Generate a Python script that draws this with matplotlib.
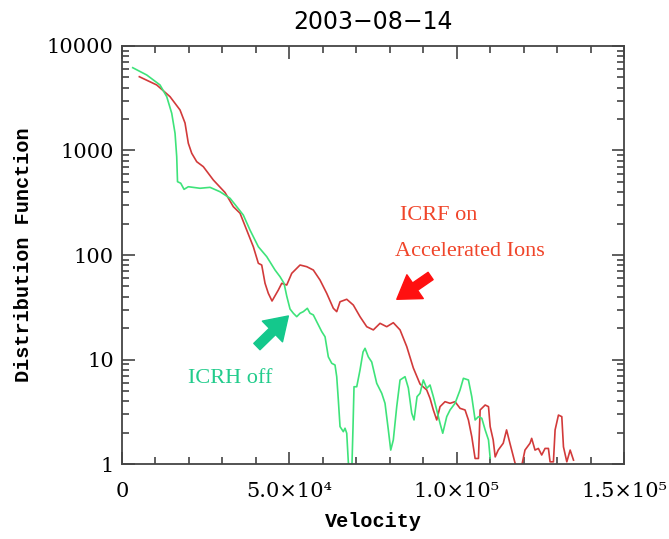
import numpy as np
import matplotlib
matplotlib.use("Agg")
import matplotlib.pyplot as plt
from matplotlib.ticker import FixedLocator, NullFormatter

# velocity in units of 1e3, distribution function values
ICRF_ON_V = [5.17, 10.37, 14.34, 17.33, 18.82, 19.81, 20.83, 22.32, 24.29, 27.28,
             30.78, 33.26, 35.26, 37.26, 39.23, 40.73, 41.74, 42.73, 43.71, 44.82,
             46.70, 47.72, 49.21, 50.71, 51.69, 53.19, 55.19, 57.16, 59.16, 61.16,
             63.14, 64.15, 65.14, 67.14, 69.11, 71.11, 73.12, 75.09, 77.09, 79.09,
             81.06, 83.07, 85.07, 87.04, 89.04, 91.04, 92.03, 93.02, 94.03, 95.02,
             96.51, 98.01, 99.50, 101.0, 102.5, 103.5, 104.5, 105.5, 106.5, 107.0,
             108.5, 109.5, 110.0, 110.9, 111.5, 112.4, 113.9, 114.9, 115.9, 117.4,
             118.9, 120.4, 121.9, 122.4, 123.4, 124.4, 125.4, 126.4, 127.4, 127.9,
             128.9, 129.4, 130.4, 131.4, 131.9, 132.9, 133.9, 134.9]
ICRF_ON_F = [5080, 4236, 3273, 2442, 1833, 1172, 940, 781, 700, 522,
             396, 290, 251, 173, 120, 83.3, 80.2, 53.6, 43.0, 36.3,
             46.2, 53.6, 51.6, 66.8, 71.8, 80.2, 77.3, 71.8, 57.6, 43.0,
             30.9, 28.7, 35.7, 37.7, 33.2, 25.7, 20.6, 19.2, 22.2, 20.6,
             22.5, 19.2, 13.3, 8.3, 5.83, 5.11, 4.25, 3.29, 2.64, 3.54,
             3.95, 3.81, 3.95, 3.41, 3.29, 2.64, 1.83, 1.13, 1.13, 3.29,
             3.67, 3.54, 2.28, 1.70, 1.17, 1.36, 1.58, 2.12, 1.58, 1.03,
             0.8, 1.36, 1.58, 1.76, 1.36, 1.41, 1.22, 1.41, 1.41, 1.05,
             1.05, 2.12, 2.94, 2.84, 1.46, 1.05, 1.36, 1.09]

ICRH_OFF_V = [3.20, 7.38, 11.35, 13.36, 14.85, 15.84, 16.34, 16.58, 17.54, 18.53,
              19.81, 23.31, 26.29, 29.28, 32.27, 34.27, 36.24, 38.25, 40.73, 43.24,
              45.72, 47.21, 48.41, 49.21, 50.20, 51.19, 52.20, 53.19, 54.17, 55.37,
              56.17, 57.16, 58.18, 59.67, 60.66, 61.64, 62.66, 63.64, 64.15, 64.63,
              65.14, 66.12, 66.63, 67.14, 67.62, 68.13, 68.63, 69.02, 69.32, 70.13,
              71.11, 72.01, 72.61, 73.59, 74.61, 76.10, 77.60, 78.58, 79.57, 80.29,
              81.06, 82.08, 83.07, 84.56, 85.55, 86.56, 87.25, 88.15, 89.04, 90.03,
              91.04, 92.03, 93.02, 94.03, 95.02, 95.83, 97.02, 98.01, 99.50, 101.0,
              102.0, 103.5, 104.5, 105.5, 106.5, 107.5, 108.5, 109.5, 110.0]
ICRH_OFF_F = [6195, 5278, 4236, 3273, 2270, 1461, 873, 503, 486, 425,
              450, 435, 444, 403, 349, 290, 241, 173, 120, 96.4,
              71.8, 62.0, 53.6, 40.5, 30.4, 27.7, 25.7, 27.7, 28.7, 30.9,
              27.7, 26.7, 23.0, 18.5, 16.5, 10.6, 9.2, 8.86, 6.85, 4.10,
              2.28, 2.04, 2.20, 1.97, 1.04, 0.8, 0.8, 2.28, 5.49, 5.49,
              7.94, 11.8, 12.8, 10.6, 9.46, 5.92, 4.75, 3.81, 2.12, 1.36,
              1.70, 3.54, 6.37, 6.85, 5.34, 3.06, 2.64, 4.41, 4.75, 6.37,
              5.30, 5.70, 4.41, 3.29, 2.45, 1.97, 2.84, 3.29, 3.81, 5.11,
              6.61, 6.37, 4.41, 2.64, 2.84, 2.74, 2.12, 1.70, 1.14]

X_TICKS = [0, 5.0e4, 1.0e5, 1.5e5]
X_TICK_LABELS = ["0", "5.0×10⁴", "1.0×10⁵", "1.5×10⁵"]
Y_TICKS = [1, 10, 100, 1000, 10000]
Y_TICK_LABELS = ["1", "10", "100", "1000", "10000"]

RED = "#d23a3a"
GREEN = "#3ee37a"

fig = plt.figure(figsize=(6.69, 5.39), dpi=100)
ax = fig.add_axes([0.1824, 0.1391, 0.7504, 0.7756])

ax.plot(np.array(ICRF_ON_V) * 1e3, ICRF_ON_F, color=RED, lw=1.2)
ax.plot(np.array(ICRH_OFF_V) * 1e3, ICRH_OFF_F, color=GREEN, lw=1.2)

ax.set_yscale("log")
ax.set_xlim(0, 1.5e5)
ax.set_ylim(1, 10000)

ax.xaxis.set_major_locator(FixedLocator(X_TICKS))
ax.xaxis.set_minor_locator(FixedLocator(np.arange(0, 1.5e5 + 1, 1e4)))
ax.set_xticklabels(X_TICK_LABELS, family="DejaVu Serif", fontsize=15)
ax.yaxis.set_major_locator(FixedLocator(Y_TICKS))
ax.yaxis.set_minor_locator(matplotlib.ticker.LogLocator(base=10, subs=np.arange(2, 10)))
ax.yaxis.set_minor_formatter(NullFormatter())
ax.set_yticklabels(Y_TICK_LABELS, family="DejaVu Serif", fontsize=15)

ax.tick_params(which="both", direction="in", top=True, right=True, color="#444444", width=1.2)
ax.tick_params(which="major", length=9)
ax.tick_params(which="minor", length=5)
ax.tick_params(axis="x", which="major", pad=13)
ax.tick_params(axis="y", which="major", pad=6)
for s in ax.spines.values():
    s.set_color("#444444")
    s.set_linewidth(1.3)

ax.set_title("2003−08−14", family="DejaVu Sans", fontsize=17, pad=12)
ax.set_xlabel("Velocity", family="Liberation Mono", fontweight="bold", fontsize=14.5, labelpad=8)
ax.set_ylabel("Distribution Function", family="Liberation Mono", fontweight="bold",
              fontsize=14.5, labelpad=10)

ax.text(9.47e4, 241, "ICRF on", color="#f0452a", family="Liberation Serif",
        fontsize=16, ha="center", va="center")
ax.text(1.04e5, 107, "Accelerated Ions", color="#f0452a", family="Liberation Serif",
        fontsize=16, ha="center", va="center")
ax.text(3.23e4, 6.65, "ICRH off", color="#22cc8c", family="Liberation Serif",
        fontsize=16, ha="center", va="center")

ax.annotate("", xy=(8.21e4, 37.7), xytext=(9.22e4, 63),
            arrowprops=dict(arrowstyle="simple,head_width=1.3,head_length=1.0,tail_width=0.4",
                            color="#ff1010", mutation_scale=16, shrinkA=0, shrinkB=0))
ax.annotate("", xy=(4.97e4, 26.1), xytext=(4.03e4, 13.3),
            arrowprops=dict(arrowstyle="simple,head_width=1.3,head_length=1.0,tail_width=0.4",
                            color="#14c88c", mutation_scale=16, shrinkA=0, shrinkB=0))

fig.savefig("out.png", dpi=100)
